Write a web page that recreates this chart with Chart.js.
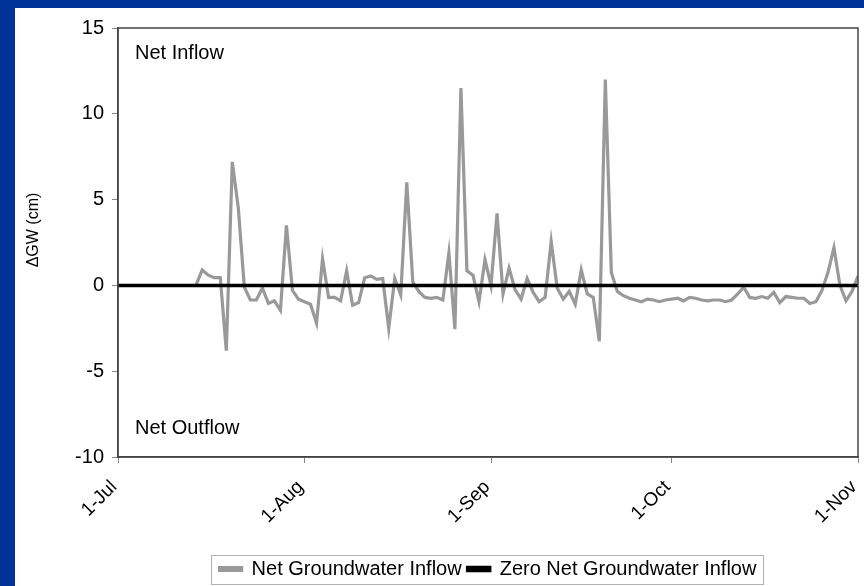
<!DOCTYPE html>
<html>
<head>
<meta charset="utf-8">
<script src="https://cdn.jsdelivr.net/npm/chart.js@4"></script>
<style>
  html, body { margin: 0; padding: 0; background: #003399; }
  body { width: 864px; height: 586px; position: relative; overflow: hidden; }
  #wrap { position: absolute; left: 15px; top: 8px; width: 849px; height: 578px; background: #fff; }
</style>
</head>
<body>
<div id="wrap"><canvas id="gwChart" width="849" height="578"></canvas></div>
<script>
// x is days since 1-Jul
const monthDays = [0, 31, 62, 92, 123];
const monthLabels = ['1-Jul', '1-Aug', '1-Sep', '1-Oct', '1-Nov'];
const yTicks = [-10, -5, 0, 5, 10, 15];

const firstDay = 13; // 14-Jul, daily values up to 1-Nov
const netInflow = [
    0.05, 0.9, 0.6, 0.45, 0.45, -3.8, 7.2, 4.5, -0.1, -0.85,
    -0.85, -0.15, -1.05, -0.9, -1.45, 3.5, -0.3, -0.8, -0.95, -1.1,
    -2.2, 1.55, -0.7, -0.7, -0.9, 0.85, -1.15, -1.0, 0.45, 0.55,
    0.35, 0.4, -2.5, 0.4, -0.55, 6.0, 0.2, -0.35, -0.7, -0.75,
    -0.7, -0.85, 1.9, -2.55, 11.5, 0.85, 0.6, -0.95, 1.5, 0.0,
    4.2, -0.5, 1.0, -0.25, -0.8, 0.4, -0.4, -0.95, -0.7, 2.55,
    -0.15, -0.8, -0.35, -1.1, 0.9, -0.5, -0.7, -3.25, 12.0, 0.75,
    -0.35, -0.6, -0.75, -0.85, -0.95, -0.8, -0.85, -0.95, -0.85, -0.8,
    -0.75, -0.9, -0.7, -0.75, -0.85, -0.9, -0.85, -0.85, -0.95, -0.85,
    -0.5, -0.1, -0.7, -0.75, -0.65, -0.75, -0.4, -1.0, -0.65, -0.7,
    -0.75, -0.75, -1.05, -0.95, -0.3, 0.75, 2.2, 0.0, -0.9, -0.35, 0.55
];

const zeroDays = [0, 123];
const zeroValues = [0, 0];

const FONT = '"Liberation Sans", Arial, sans-serif';

// frame round the plot, the texts beside it and the box round the legend
const extras = {
    id: 'extras',
    afterUpdate(chart) {
        // legend sits centred under the plot, a bit lower than chart.js puts it
        const lg = chart.legend;
        const shift = (chart.chartArea.left + chart.chartArea.right) / 2 - (lg.left + lg.right) / 2;
        lg.left += shift;
        lg.right += shift;
        lg.top += 4;
        lg.bottom += 4;
        lg.adjustHitBoxes();
    },
    afterDatasetsDraw(chart) {
        const { ctx, chartArea: a } = chart;
        ctx.save();
        ctx.strokeStyle = '#444';
        ctx.lineWidth = 1.5;
        ctx.strokeRect(a.left, a.top, a.right - a.left, a.bottom - a.top);
        ctx.fillStyle = '#000';
        ctx.font = '20px ' + FONT;
        ctx.textBaseline = 'alphabetic';
        ctx.fillText('Net Inflow', a.left + 17, a.top + 31);
        ctx.fillText('Net Outflow', a.left + 17, a.bottom - 23);
        // y axis title, a little above the middle as in the original
        ctx.font = '16px ' + FONT;
        ctx.textAlign = 'center';
        ctx.textBaseline = 'middle';
        ctx.translate(19, a.top + 202);
        ctx.rotate(-Math.PI / 2);
        ctx.fillText('\u0394GW (cm)', 0, 0);
        ctx.restore();

        // box round the legend
        const lg = chart.legend;
        const mid = (a.left + a.right) / 2;
        const w = lg.lineWidths && lg.lineWidths.length ? lg.lineWidths[0] : 540;
        const left = Math.round(mid - w / 2) - 6;
        const right = Math.round(mid + w / 2) + 4;
        const top = Math.round(lg.top) + 2;
        const bottom = chart.height - 2;
        ctx.save();
        ctx.strokeStyle = '#b0b0b0';
        ctx.lineWidth = 1;
        ctx.strokeRect(left + 0.5, top + 0.5, right - left, bottom - top);
        ctx.restore();
    }
};

new Chart(document.getElementById('gwChart'), {
    type: 'line',
    data: {
        datasets: [{
            label: 'Net Groundwater Inflow',
            data: netInflow.map((v, i) => ({ x: firstDay + i, y: v })),
            borderColor: '#999999',
            backgroundColor: '#999999',
            borderWidth: 3.2,
            pointRadius: 0,
            tension: 0,
            order: 1
        }, {
            label: 'Zero Net Groundwater Inflow',
            data: zeroDays.map((d, i) => ({ x: d, y: zeroValues[i] })),
            borderColor: '#000000',
            backgroundColor: '#000000',
            borderWidth: 3.5,
            pointRadius: 0,
            order: 0
        }]
    },
    options: {
        responsive: false,
        animation: false,
        layout: { padding: { top: 16, right: 6, left: 0, bottom: 1 } },
        plugins: {
            legend: {
                position: 'bottom',
                labels: {
                    boxWidth: 22,
                    boxHeight: 3,
                    padding: 6,
                    color: '#000',
                    font: { family: FONT, size: 20 },
                    sort: (a, b) => a.datasetIndex - b.datasetIndex
                }
            },
            tooltip: { enabled: false }
        },
        scales: {
            x: {
                type: 'linear',
                min: 0,
                max: 123,
                afterBuildTicks: axis => { axis.ticks = monthDays.map(v => ({ value: v })); },
                afterFit: axis => {
                    axis.height = 92;
                    axis.paddingLeft = 0;
                    axis.paddingRight = 0;
                },
                grid: { drawOnChartArea: false, drawTicks: true, tickLength: 6, color: '#888' },
                border: { display: true, color: '#444', width: 1.5 },
                ticks: {
                    autoSkip: false,
                    minRotation: 45,
                    maxRotation: 45,
                    padding: 13,
                    labelOffset: -4,
                    color: '#000',
                    font: { family: FONT, size: 19 },
                    callback: value => monthLabels[monthDays.indexOf(value)]
                }
            },
            y: {
                min: -10,
                max: 15,
                afterBuildTicks: axis => { axis.ticks = yTicks.map(v => ({ value: v })); },
                afterFit: axis => { axis.width = 103; },
                grid: { drawOnChartArea: false, drawTicks: true, tickLength: 6, color: '#888' },
                border: { display: true, color: '#444', width: 1.5 },
                ticks: {
                    padding: 8,
                    color: '#000',
                    font: { family: FONT, size: 20 }
                }
            }
        }
    },
    plugins: [extras]
});
</script>
</body>
</html>
